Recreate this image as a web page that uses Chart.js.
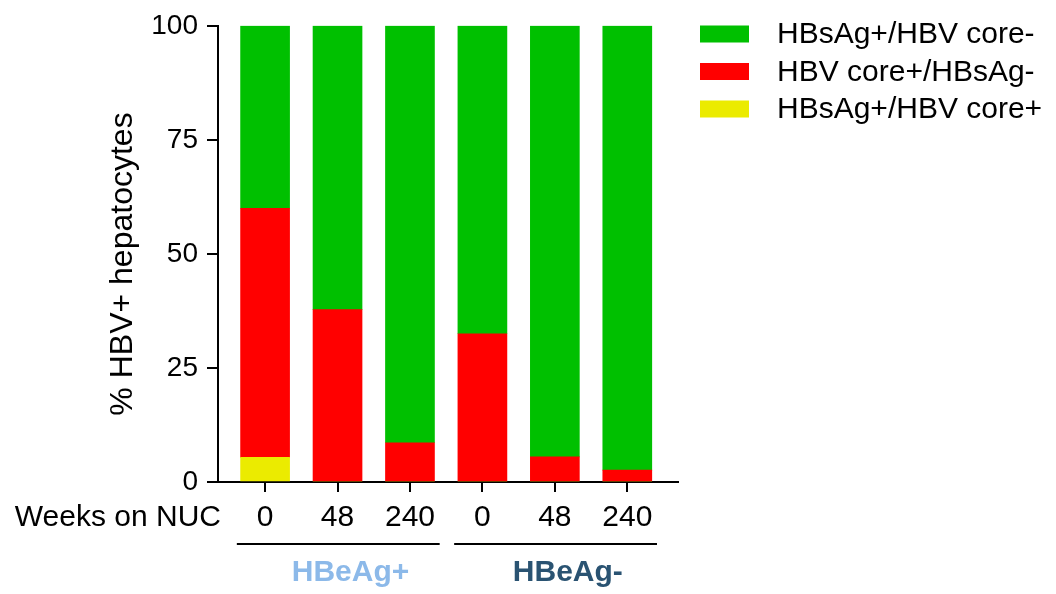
<!DOCTYPE html>
<html>
<head>
<meta charset="utf-8">
<script src="https://cdn.jsdelivr.net/npm/chart.js@4.4.1/dist/chart.umd.min.js"></script>
<style>
html,body{margin:0;padding:0;background:#fff;}
canvas{display:block;}
</style>
</head>
<body>
<canvas id="c" width="1056" height="594"></canvas>
<script>
const weekLabels = ["0", "48", "240", "0", "48", "240"];
const groups = ["HBeAg+", "HBeAg-"];
const groupColors = ["#8cb9e9", "#2a5372"];
const seriesNames = ["HBsAg+/HBV core+", "HBV core+/HBsAg-", "HBsAg+/HBV core-"];
const seriesColors = ["#ebeb00", "#ff0000", "#00c000"];
const coreAndS = [5.4, 0, 0, 0, 0, 0];
const coreOnly = [54.6, 37.8, 8.6, 32.5, 5.5, 2.6];
const sOnly = [40.0, 62.2, 91.4, 67.5, 94.5, 97.4];
const yTicks = [0, 25, 50, 75, 100];
const xTitle = "Weeks on NUC";
const yTitle = "% HBV+ hepatocytes";

const FONT = "'Liberation Sans', Arial, Helvetica, sans-serif";
const seriesValues = [coreAndS, coreOnly, sOnly];

const datasets = seriesValues.map((vals, k) => ({
  label: seriesNames[k],
  data: vals.map((v, i) => ({x: i, y: v})),
  backgroundColor: seriesColors[k],
  borderWidth: 0,
  barThickness: 49
}));

const overlay = {
  id: 'overlay',
  afterDraw(chart) {
    const ctx = chart.ctx;
    const xs = chart.scales.x;
    ctx.save();
    // y axis title
    ctx.save();
    ctx.translate(132, 264);
    ctx.rotate(-Math.PI / 2);
    ctx.fillStyle = '#000';
    ctx.font = `32px ${FONT}`;
    ctx.textAlign = 'center';
    ctx.textBaseline = 'alphabetic';
    ctx.fillText(yTitle, 0, 0);
    ctx.restore();
    // x title
    ctx.fillStyle = '#000';
    ctx.font = `30px ${FONT}`;
    ctx.textAlign = 'right';
    ctx.textBaseline = 'middle';
    ctx.fillText(xTitle, 221, 518);
    // group brackets and labels
    const step = xs.getPixelForValue(1) - xs.getPixelForValue(0);
    groups.forEach((g, gi) => {
      const first = gi * 3, last = gi * 3 + 2;
      const l = xs.getPixelForValue(first) - 0.39 * step;
      const r = xs.getPixelForValue(last) + 0.41 * step;
      ctx.strokeStyle = '#000';
      ctx.lineWidth = 2;
      ctx.beginPath();
      ctx.moveTo(l, 544);
      ctx.lineTo(r, 544);
      ctx.stroke();
      ctx.fillStyle = groupColors[gi];
      ctx.font = `bold 30px ${FONT}`;
      ctx.textAlign = 'center';
      ctx.textBaseline = 'middle';
      ctx.fillText(g, xs.getPixelForValue(first + 1) + 13, 573);
    });
    // legend
    const order = [2, 1, 0];
    order.forEach((k, r) => {
      const cy = 34 + r * 37.5;
      ctx.fillStyle = seriesColors[k];
      ctx.fillRect(700, cy - 8.5, 49, 17);
      ctx.fillStyle = '#000';
      ctx.font = `30px ${FONT}`;
      ctx.textAlign = 'left';
      ctx.textBaseline = 'middle';
      ctx.fillText(seriesNames[k], 777, cy + 1);
    });
    ctx.restore();
  }
};

new Chart(document.getElementById('c'), {
  type: 'bar',
  data: { datasets },
  plugins: [overlay],
  options: {
    responsive: false,
    animation: false,
    layout: { padding: { left: 0, right: 378, top: 24, bottom: 0 } },
    plugins: { legend: { display: false }, tooltip: { enabled: false } },
    scales: {
      x: {
        type: 'linear',
        stacked: true,
        offset: false,
        min: -0.65,
        max: 5.7,
        afterFit(s) { s.height = 112; },
        afterBuildTicks(s) { s.ticks = weekLabels.map((_, i) => ({value: i})); },
        border: { display: true, color: '#000', width: 2 },
        grid: { offset: false, drawOnChartArea: false, drawTicks: true, tickLength: 10, color: '#000', lineWidth: 2 },
        ticks: {
          autoSkip: false,
          maxRotation: 0,
          padding: 8,
          color: '#000',
          font: { family: FONT, size: 30 },
          callback: (v) => weekLabels[Math.round(v)]
        }
      },
      y: {
        stacked: true,
        min: 0,
        max: 100,
        afterFit(s) { s.width = 218; },
        afterBuildTicks(s) { s.ticks = yTicks.map(v => ({value: v})); },
        border: { display: true, color: '#000', width: 2 },
        grid: { drawOnChartArea: false, drawTicks: true, tickLength: 11, color: '#000', lineWidth: 2 },
        ticks: {
          padding: 9,
          color: '#000',
          font: { family: FONT, size: 28 }
        },
        title: { display: false }
      }
    }
  }
});
</script>
</body>
</html>
